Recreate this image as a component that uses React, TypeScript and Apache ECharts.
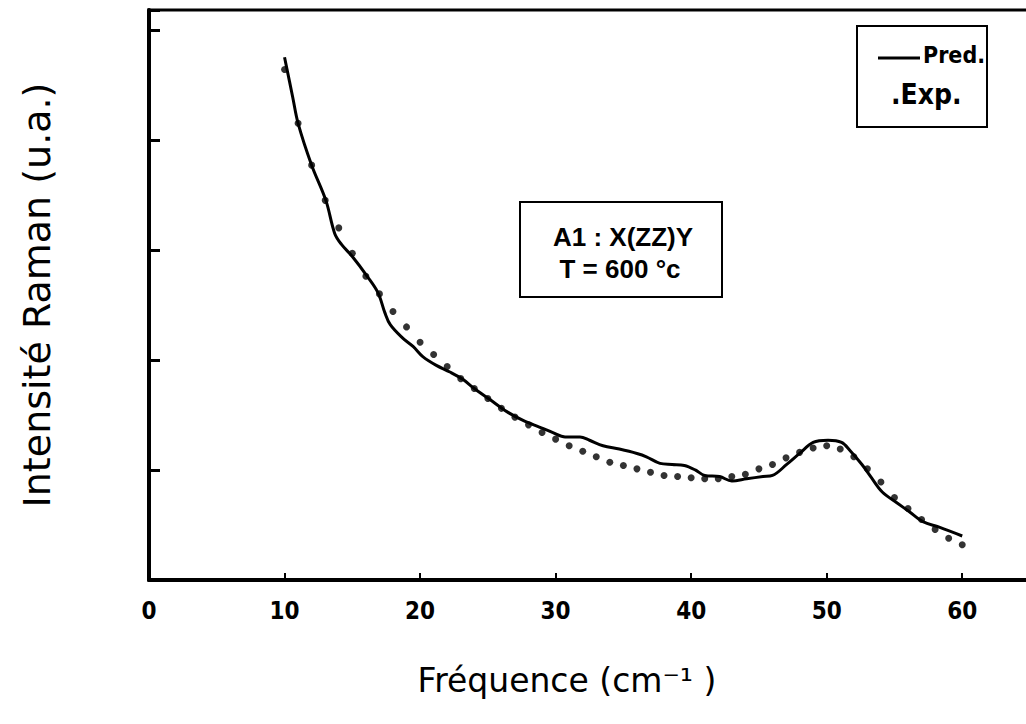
import React, { useEffect, useRef } from "react";
import * as echarts from "echarts";

// Predicted curve (solid line): [frequency, intensity]
const predX = [10.0, 10.6, 11.0, 12.0, 13.05, 13.7, 14.2, 15.0, 16.1, 16.9, 17.4, 17.8, 18.7, 19.5, 20.2, 21.2, 22.2, 23.2, 23.9, 25.15, 26.4, 27.6, 28.8, 29.8, 30.7, 31.8, 32.5, 33.5, 34.7, 36.0, 36.7, 37.7, 38.6, 39.5, 40.3, 41.0, 42.1, 43.0, 44.1, 45.3, 46.0, 47.05, 48.0, 49.0, 50.1, 51.1, 51.7, 52.6, 53.3, 54.1, 55.2, 56.1, 57.1, 58.3, 60.0];
const predY = [4.75, 4.39, 4.15, 3.77, 3.45, 3.15, 3.05, 2.94, 2.76, 2.61, 2.43, 2.32, 2.2, 2.12, 2.03, 1.95, 1.89, 1.82, 1.75, 1.64, 1.53, 1.45, 1.39, 1.34, 1.3, 1.3, 1.27, 1.22, 1.19, 1.15, 1.12, 1.06, 1.05, 1.04, 1.0, 0.95, 0.94, 0.9, 0.92, 0.94, 0.95, 1.05, 1.15, 1.25, 1.27, 1.25, 1.18, 1.05, 0.93, 0.8, 0.7, 0.62, 0.53, 0.48, 0.4];

// Experimental points (dots)
const expX = [10, 11, 12, 13, 14, 15, 16, 17, 18, 19, 20, 21, 22, 23, 24, 25, 26, 27, 28, 29, 30, 31, 32, 33, 34, 35, 36, 37, 38, 39, 40, 41, 42, 43, 44, 45, 46, 47, 48, 49, 50, 51, 52, 53, 54, 55, 56, 57, 58, 59, 60];
const expY = [4.64, 4.15, 3.77, 3.45, 3.2, 2.97, 2.76, 2.6, 2.44, 2.3, 2.16, 2.05, 1.94, 1.83, 1.74, 1.65, 1.56, 1.48, 1.41, 1.34, 1.28, 1.22, 1.17, 1.12, 1.07, 1.04, 1.01, 0.98, 0.95, 0.94, 0.93, 0.92, 0.92, 0.94, 0.96, 1.01, 1.05, 1.11, 1.16, 1.2, 1.22, 1.19, 1.12, 1.01, 0.89, 0.75, 0.65, 0.55, 0.46, 0.38, 0.32];

const xTickLabels = ["0", "10", "20", "30", "40", "50", "60"];

const yTitle = "Intensité Raman (u.a.)";
const xTitle = "Fréquence (cm⁻¹ )";
const annotLines = ["A1 : X(ZZ)Y", "T = 600 °c"];
const legendPred = "Pred.";
const legendExp = ".Exp.";

export default function App() {
  const ref = useRef<HTMLDivElement>(null);
  useEffect(() => {
    if (!ref.current) return;
    const chart = echarts.init(ref.current, null, { renderer: "svg" });
    const predData = predX.map((x, i) => [x, predY[i]]);
    const expData = expX.map((x, i) => [x, expY[i]]);
    const labelFont = "DejaVu Sans Condensed";
    chart.setOption({
      animation: false,
      backgroundColor: "#ffffff",
      grid: {
        left: 149,
        top: 10,
        width: 881,
        height: 570,
        show: true,
        borderColor: "#000",
        borderWidth: 3,
        containLabel: false,
        outerBoundsMode: "none",
      },
      xAxis: {
        type: "value",
        min: 0,
        max: 65,
        interval: 10,
        axisLine: { show: true, lineStyle: { color: "#000", width: 4 } },
        axisTick: { show: true, inside: true, length: 7, lineStyle: { color: "#000", width: 2 } },
        splitLine: { show: false },
        axisLabel: {
          color: "#000",
          fontFamily: labelFont,
          fontWeight: "bold",
          fontSize: 24,
          margin: 19,
          formatter: (v: number) => {
            const idx = Math.round(v / 10);
            return v % 10 === 0 && idx < xTickLabels.length ? xTickLabels[idx] : "";
          },
        },
      },
      yAxis: {
        type: "value",
        min: 0,
        max: 5.18,
        interval: 1,
        axisLine: { show: true, lineStyle: { color: "#000", width: 4 } },
        axisTick: { show: true, inside: true, length: 11, lineStyle: { color: "#000", width: 3 } },
        splitLine: { show: false },
        axisLabel: { show: false },
      },
      series: [
        {
          name: "Pred",
          type: "line",
          data: predData,
          showSymbol: false,
          smooth: 0.35,
          lineStyle: { color: "#000", width: 3 },
          z: 3,
        },
        {
          name: "Exp",
          type: "scatter",
          data: expData,
          symbol: "circle",
          symbolSize: 7,
          itemStyle: { color: "#000" },
          z: 4,
        },
      ],
      graphic: [
        {
          type: "text",
          x: 37,
          y: 295,
          rotation: Math.PI / 2,
          style: {
            text: yTitle,
            fill: "#000",
            font: `38px "DejaVu Sans"`,
            align: "center",
            verticalAlign: "middle",
          },
        },
        {
          type: "text",
          x: 567,
          y: 680,
          style: {
            text: xTitle,
            fill: "#000",
            font: `33px "DejaVu Sans"`,
            align: "center",
            verticalAlign: "middle",
          },
        },
        {
          type: "rect",
          shape: { x: 520, y: 202, width: 202, height: 95 },
          style: { fill: "#fff", stroke: "#000", lineWidth: 2 },
          z: 10,
        },
        {
          type: "text",
          x: 623,
          y: 237,
          z: 11,
          style: {
            text: annotLines[0],
            fill: "#000",
            font: `bold 26px "Liberation Sans"`,
            align: "center",
            verticalAlign: "middle",
          },
        },
        {
          type: "text",
          x: 620,
          y: 269,
          z: 11,
          style: {
            text: annotLines[1],
            fill: "#000",
            font: `bold 26px "Liberation Sans"`,
            align: "center",
            verticalAlign: "middle",
          },
        },
        {
          type: "rect",
          shape: { x: 857, y: 26, width: 130, height: 101 },
          style: { fill: "#fff", stroke: "#000", lineWidth: 2 },
          z: 10,
        },
        {
          type: "line",
          shape: { x1: 878, y1: 58, x2: 920, y2: 58 },
          style: { stroke: "#000", lineWidth: 3 },
          z: 11,
        },
        {
          type: "text",
          x: 923,
          y: 55,
          z: 11,
          style: {
            text: legendPred,
            fill: "#000",
            font: `bold 23px "DejaVu Sans Condensed"`,
            align: "left",
            verticalAlign: "middle",
          },
        },
        {
          type: "text",
          x: 891,
          y: 94,
          z: 11,
          style: {
            text: legendExp,
            fill: "#000",
            font: `bold 28px "DejaVu Sans Condensed"`,
            align: "left",
            verticalAlign: "middle",
          },
        },
      ],
    });
    return () => chart.dispose();
  }, []);
  return (
    <div
      ref={ref}
      style={{ position: "fixed", left: 0, top: 0, width: 1026, height: 724, background: "#fff" }}
    />
  );
}
